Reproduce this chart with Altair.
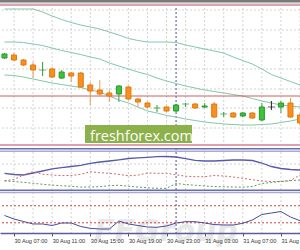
import altair as alt
import pandas as pd

# H1 candles: hours counted from 30 Aug 00:00 (6 = 30 Aug 06:00 ... 37 = 31 Aug 13:00)
hours = list(range(6, 38))
kind = ["bull", "bear", "bear", "bear", "doji", "bear", "bull", "bear", "bear", "bear",
        "bear", "bear", "bull", "bear", "bear", "bear", "doji", "bear", "bull", "doji",
        "bear", "bull", "bear", "doji", "bear", "bull", "bear", "bull", "dark", "bull",
        "bear", "bear"]
open_ = [1.1690, 1.1693, 1.1688, 1.1683, 1.1678, 1.1679, 1.1670, 1.1675, 1.1675, 1.1663,
         1.1658, 1.1655, 1.1654, 1.1661, 1.1649, 1.1645, 1.1640, 1.1641, 1.1637, 1.1644,
         1.1644, 1.1641, 1.1644, 1.1634, 1.1635, 1.1632, 1.1635, 1.1628, 1.1641, 1.1641,
         1.1645, 1.1633]
high = [1.1695, 1.1695, 1.1689, 1.1686, 1.1686, 1.1681, 1.1678, 1.1676, 1.1676, 1.1666,
        1.1668, 1.1658, 1.1663, 1.1662, 1.1650, 1.1646, 1.1643, 1.1642, 1.1644, 1.1645,
        1.1645, 1.1645, 1.1646, 1.1636, 1.1636, 1.1636, 1.1636, 1.1645, 1.1647, 1.1647,
        1.1650, 1.1635]
low = [1.1689, 1.1687, 1.1682, 1.1670, 1.1672, 1.1670, 1.1669, 1.1666, 1.1660, 1.1643,
       1.1652, 1.1646, 1.1646, 1.1648, 1.1641, 1.1640, 1.1636, 1.1636, 1.1636, 1.1641,
       1.1639, 1.1640, 1.1630, 1.1631, 1.1630, 1.1631, 1.1629, 1.1627, 1.1638, 1.1635,
       1.1630, 1.1623]
close = [1.1694, 1.1688, 1.1683, 1.1678, 1.1678, 1.1671, 1.1676, 1.1672, 1.1661, 1.1657,
         1.1654, 1.1652, 1.1662, 1.1649, 1.1646, 1.1641, 1.1640, 1.1637, 1.1643, 1.1644,
         1.1640, 1.1642, 1.1631, 1.1634, 1.1631, 1.1635, 1.1630, 1.1641, 1.1641, 1.1645,
         1.1631, 1.1625]

# Bollinger bands
upper = [1.1739, 1.1739, 1.1739, 1.1739, 1.1736, 1.1732, 1.17285, 1.17255, 1.1723, 1.1721,
         1.1719, 1.1716, 1.1713, 1.17095, 1.17075, 1.1706, 1.1706, 1.1706, 1.17055, 1.1703,
         1.1701, 1.1699, 1.1697, 1.1695, 1.1691, 1.16875, 1.1684, 1.1679, 1.16735, 1.1670,
         1.16665, 1.1663]
middle = [1.1706, 1.1706, 1.17055, 1.1704, 1.17025, 1.1700, 1.16975, 1.16955, 1.16935, 1.1691,
          1.1689, 1.1685, 1.1682, 1.1679, 1.1676, 1.16735, 1.1670, 1.1667, 1.16645, 1.1662,
          1.1660, 1.1658, 1.16565, 1.1655, 1.16535, 1.1652, 1.16495, 1.1647, 1.1645, 1.1643,
          1.1642, 1.1641]
lower = [1.1673, 1.16725, 1.1671, 1.1669, 1.1667, 1.1665, 1.16635, 1.1662, 1.16605, 1.1658,
         1.1656, 1.1652, 1.1648, 1.1645, 1.1641, 1.1637, 1.1635, 1.16325, 1.1631, 1.1629,
         1.16275, 1.1626, 1.1625, 1.1624, 1.16235, 1.1623, 1.1623, 1.16235, 1.1624, 1.16255,
         1.1627, 1.1629]

# ADX panel
adx = [16.7, 15.5, 15.0, 17.0, 19.0, 21.2, 22.4, 23.5, 24.7, 26.7, 28.0, 29.0, 30.2, 31.5,
       32.2, 32.7, 33.3, 33.5, 33.0, 31.3, 29.7, 29.0, 29.0, 29.5, 30.0, 30.0, 29.5, 27.0,
       23.5, 21.5, 20.5, 20.0]
minus_di = [9.3, 10.5, 15.1, 18.3, 15.7, 15.0, 14.4, 14.5, 15.7, 18.3, 17.3, 16.7, 15.7, 14.2,
            14.9, 17.0, 16.7, 16.7, 15.2, 13.8, 13.3, 13.3, 14.5, 14.0, 13.0, 11.7, 10.2, 9.1,
            8.4, 8.5, 9.5, 15.0]
plus_di = [9.0, 8.5, 7.7, 6.7, 5.7, 4.9, 4.3, 3.7, 2.9, 3.0, 3.3, 4.3, 4.8, 3.7, 3.0, 2.2,
           1.7, 1.7, 6.5, 5.5, 4.7, 4.0, 3.4, 3.2, 3.0, 2.8, 3.5, 6.5, 7.5, 8.5, 9.3, 10.0]

# RSI panel
rsi = [47.1, 38.9, 33.0, 27.2, 27.2, 23.6, 29.5, 29.5, 21.3, 17.0, 15.4, 15.4, 34.2, 27.2,
       23.6, 20.1, 19.4, 22.5, 29.5, 32.6, 32.6, 29.5, 25.9, 24.8, 24.8, 28.8, 36.6, 49.5,
       53.0, 56.5, 43.6, 34.9]

grid_hours = [7, 9, 11, 13, 15, 17, 19, 21, 23, 25, 27, 29, 31, 33, 35, 37]
label_hours = [3, 7, 11, 15, 19, 23, 27, 31, 35]
price_grid = [1.1738, 1.1718, 1.1699, 1.1679, 1.1659, 1.1640, 1.1620]
pink_levels = [1.1743, 1.1603]
red_levels = [1.1652]
adx_grid = [26]
rsi_levels = [70, 30]
day_sep = [24]

df = pd.DataFrame({"h": hours, "o": open_, "hi": high, "lo": low, "c": close, "k": kind,
                   "ub": upper, "mb": middle, "lb": lower, "adx": adx, "mdi": minus_di,
                   "pdi": plus_di, "rsi": rsi})

xaxis = alt.Axis(values=label_hours, grid=False, labelExpr=(
    "(datum.value < 24 ? '30 Aug ' : '31 Aug ') + (datum.value % 24 < 10 ? '0' : '')"
    " + (datum.value % 24) + ':00'"),
    labelAlign="left", labelFlush=False, labelOverlap=False, labelFont="Liberation Sans",
    labelFontSize=5.6, labelColor="#333333", labelPadding=2, tickSize=3, tickColor="#555555",
    domainColor="#5c5c9c", domainWidth=1.5, title=None, zindex=1)
X = alt.X("h:Q", scale=alt.Scale(domain=[5.53, 37.0], padding=0, nice=False, zero=False), axis=xaxis)


def ym(f):
    return alt.Y(f, type="quantitative", axis=None,
                 scale=alt.Scale(domain=[1.1600, 1.1748], range=[148, 0], nice=False, zero=False))


def ya(f):
    return alt.Y(f, type="quantitative", axis=None,
                 scale=alt.Scale(domain=[0, 39], range=[190, 151], nice=False, zero=False))


def yr(f):
    return alt.Y(f, type="quantitative", axis=None,
                 scale=alt.Scale(domain=[6, 100], range=[233, 193], nice=False, zero=False))


one = pd.DataFrame({"t": ["freshforex.com"]})
kinds = ["bull", "bear", "doji", "dark"]

layers = []
layers.append(alt.Chart(pd.DataFrame({"h": grid_hours})).mark_rule(
    color="#d2d2d2", strokeDash=[2, 2], strokeWidth=1).encode(x=X))
layers.append(alt.Chart(pd.DataFrame({"p": price_grid})).mark_rule(
    color="#d2d2d2", strokeDash=[2, 2], strokeWidth=1).encode(y=ym("p")))
layers.append(alt.Chart(pd.DataFrame({"v": adx_grid})).mark_rule(
    color="#d2d2d2", strokeDash=[2, 2], strokeWidth=1).encode(y=ya("v")))
layers.append(alt.Chart(pd.DataFrame({"t": ["FFGroup"]})).mark_text(
    align="left", baseline="alphabetic", fontSize=30, fontStyle="italic", fontWeight="bold",
    font="DejaVu Sans", color="#e8e8e8").encode(text="t:N", x=alt.value(94), y=alt.value(241)))
layers.append(alt.Chart(pd.DataFrame({"h": day_sep})).mark_rule(
    color="#4f4f8f", strokeDash=[2, 2], strokeWidth=1).encode(x=X))

base = alt.Chart(df)
for f in ["ub", "mb", "lb"]:
    layers.append(base.mark_line(color="#82c8a8", strokeWidth=1).encode(x=X, y=ym(f)))

layers.append(alt.Chart(pd.DataFrame({"p": red_levels})).mark_rule(
    color="#c86060", strokeWidth=1).encode(y=ym("p")))
layers.append(alt.Chart(pd.DataFrame({"p": pink_levels})).mark_rule(
    color="#e0a0b0", strokeWidth=1.8).encode(y=ym("p")))

layers.append(base.mark_rule(strokeWidth=1).encode(
    x=X, y=ym("hi"), y2="lo",
    color=alt.Color("k:N", scale=alt.Scale(domain=kinds, range=["#3aa63a", "#ee9a55", "#2f9e2f", "#222222"]), legend=None)))
layers.append(base.transform_filter("datum.o != datum.c").mark_bar(size=5, strokeWidth=1).encode(
    x=X, y=ym("o"), y2="c",
    fill=alt.Fill("k:N", scale=alt.Scale(domain=kinds, range=["#3cc43c", "#f7901c", "#3cc43c", "#222222"]), legend=None),
    stroke=alt.Stroke("k:N", scale=alt.Scale(domain=kinds, range=["#2c962c", "#e07810", "#2c962c", "#222222"]), legend=None)))
layers.append(base.transform_filter("datum.o == datum.c").mark_tick(orient="horizontal", size=7, thickness=1).encode(
    x=X, y=ym("o"),
    color=alt.Color("k:N", scale=alt.Scale(domain=kinds, range=["#3aa63a", "#ee9a55", "#2f9e2f", "#222222"]), legend=None)))

layers.append(alt.Chart(one).mark_rect(color="#8cb04a").encode(
    x=alt.value(85), x2=alt.value(192), y=alt.value(125), y2=alt.value(143)))
layers.append(alt.Chart(one).mark_text(align="left", baseline="alphabetic", fontSize=14.5,
                                       font="Open Sans", color="white").encode(
    text="t:N", x=alt.value(90), y=alt.value(140.5)))

layers.append(base.mark_line(color="#5a5aa8", strokeWidth=1.3).encode(x=X, y=ya("adx")))
layers.append(base.mark_line(color="#d06a6a", strokeWidth=1, strokeDash=[2, 2]).encode(x=X, y=ya("mdi")))
layers.append(base.mark_line(color="#55a055", strokeWidth=1, strokeDash=[2, 2]).encode(x=X, y=ya("pdi")))

layers.append(alt.Chart(pd.DataFrame({"v": rsi_levels})).mark_rule(
    color="#cc4444", strokeWidth=1, strokeDash=[2, 2]).encode(y=yr("v")))
layers.append(base.mark_line(color="#4a4a98", strokeWidth=1).encode(x=X, y=yr("rsi")))

for yv, col, w in [(1.0, "#7a7a7a", 2.0), (2.8, "#b8b8b8", 1.4),
                   (148.8, "#6a6ea8", 1.6), (151.2, "#a8aad4", 1.4),
                   (190.2, "#6a6ea8", 1.6), (192.5, "#a8aad4", 1.4)]:
    layers.append(alt.Chart(one).mark_rule(color=col, strokeWidth=w).encode(
        x=alt.value(0), x2=alt.value(300), y=alt.value(yv)))

chart = alt.layer(*layers).resolve_scale(y="independent").properties(
    width=300, height=233,
    autosize=alt.AutoSizeParams(type="none"),
    padding={"left": 0, "top": 0, "right": 0, "bottom": 17},
    background="white",
).configure_view(stroke=None)

chart.save("out.html", embed_options={"renderer": "svg", "actions": False})
